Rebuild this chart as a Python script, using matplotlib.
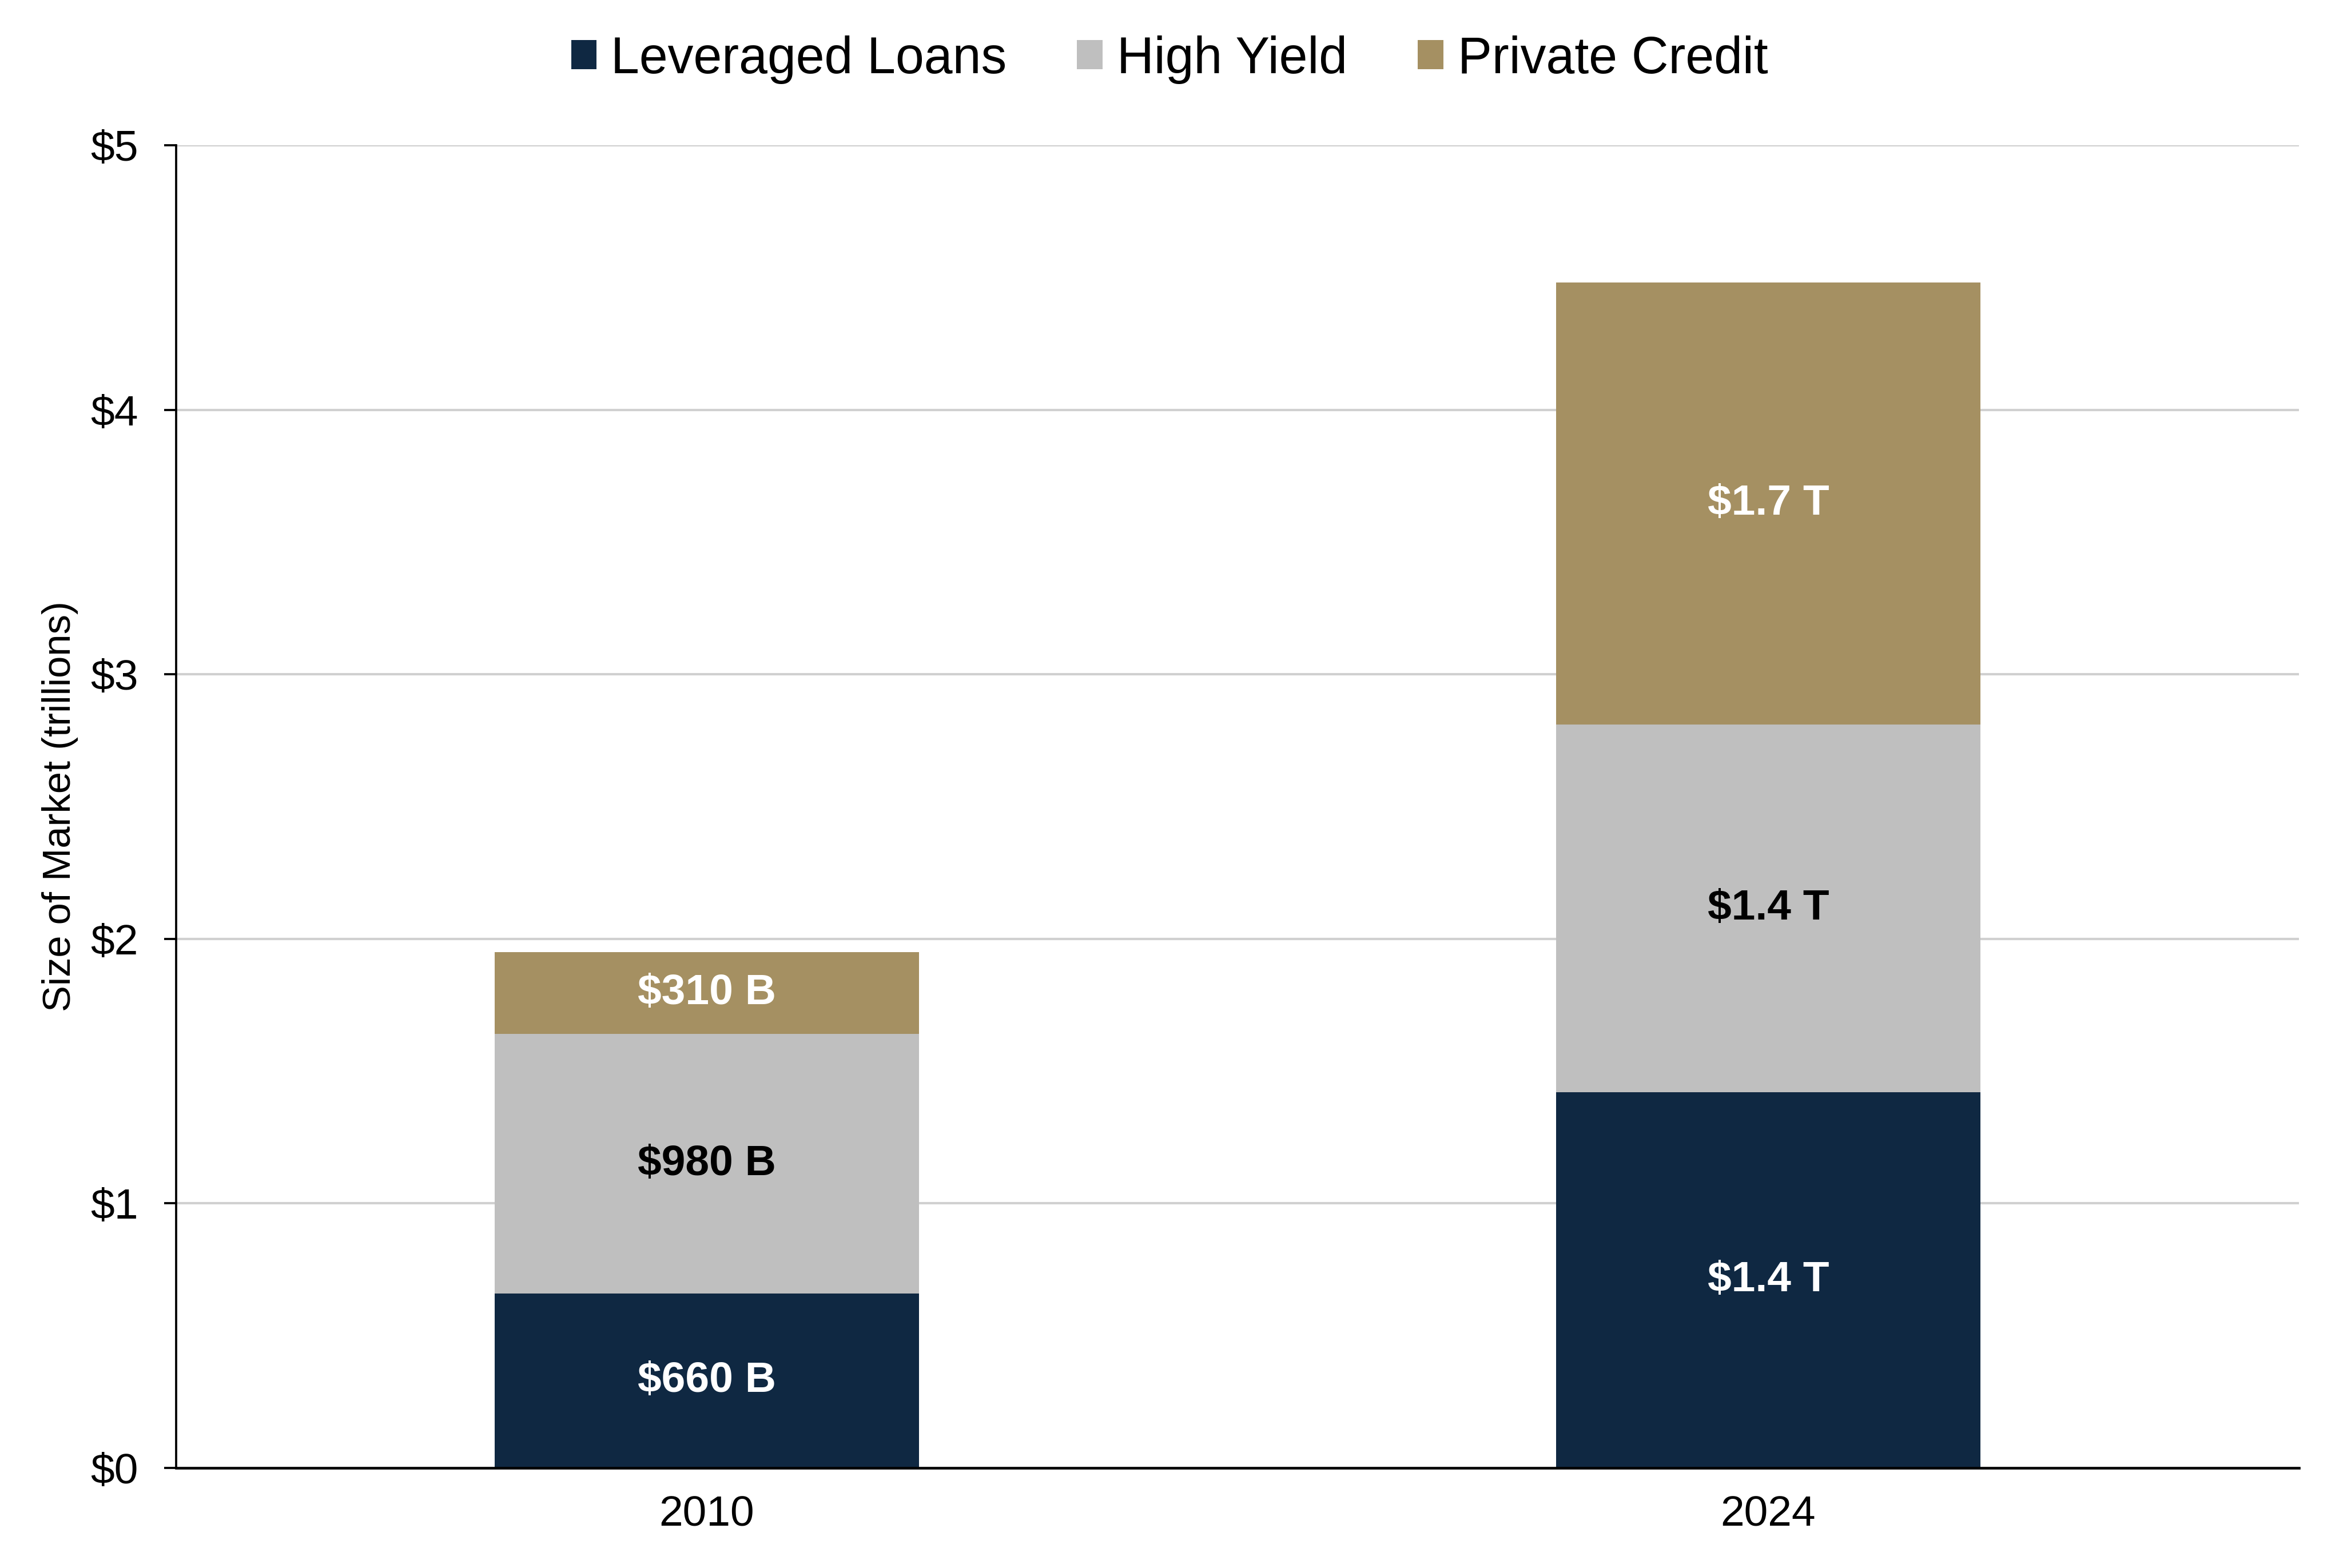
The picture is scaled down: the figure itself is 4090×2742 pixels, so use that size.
import matplotlib
matplotlib.use("Agg")
import matplotlib.pyplot as plt
import numpy as np

plt.rcParams['font.family'] = ['Liberation Sans', 'DejaVu Sans']

# data (trillions USD)
years = ['2010', '2024']
series_names = ['Leveraged Loans', 'High Yield', 'Private Credit']
leveraged_loans = [0.66, 1.42]
high_yield = [0.98, 1.39]
private_credit = [0.31, 1.67]
seg_labels = [
    ['$660 B', '$1.4 T'],
    ['$980 B', '$1.4 T'],
    ['$310 B', '$1.7 T'],
]
y_ticks = [0, 1, 2, 3, 4, 5]
y_tick_labels = ['$0', '$1', '$2', '$3', '$4', '$5']

colors = ['#0f2842', '#bfbfbf', '#a59062']
label_colors = ['white', 'black', 'white']

fig = plt.figure(figsize=(4090 / 300, 2742 / 300), dpi=300)
ax = fig.add_axes([0.0753, 0.0638, 0.9076, 0.8436])

x = np.arange(len(years))
bottom = np.zeros(len(years))
for vals, name, col, labs, lcol in zip(
        [leveraged_loans, high_yield, private_credit], series_names, colors, seg_labels, label_colors):
    vals = np.array(vals)
    ax.bar(x, vals, width=0.4, bottom=bottom, color=col, label=name, zorder=2)
    for xi, b, v, t in zip(x, bottom, vals, labs):
        ax.text(xi, b + v / 2, t, ha='center', va='center', color=lcol,
                fontsize=18, fontweight='bold', zorder=3)
    bottom = bottom + vals

ax.set_xlim(-0.5, 1.5)
ax.set_ylim(0, 5)
ax.set_xticks(x, labels=years)
ax.set_yticks(y_ticks, labels=y_tick_labels)
ax.tick_params(axis='x', length=0, pad=11.5, labelsize=18)
ax.tick_params(axis='y', length=5, width=0.9, pad=11, labelsize=18)

ax.grid(axis='y', color='#d0d0d0', linewidth=1.0, zorder=0)
ax.set_axisbelow(True)

for side in ['top', 'right']:
    ax.spines[side].set_visible(False)
ax.spines['left'].set_linewidth(0.9)
ax.spines['bottom'].set_linewidth(1.1)
ax.spines['bottom'].set_zorder(4)

ax.set_ylabel('Size of Market (trillions)', fontsize=16.5)
ax.yaxis.set_label_coords(-0.046, 0.5)

fig.legend(loc='center', bbox_to_anchor=(0.5, 0.962), ncol=3, frameon=False,
           fontsize=21.5, handlelength=0.5, handleheight=0.5,
           handletextpad=0.28, columnspacing=1.37)

fig.savefig('out.png', dpi=300)
